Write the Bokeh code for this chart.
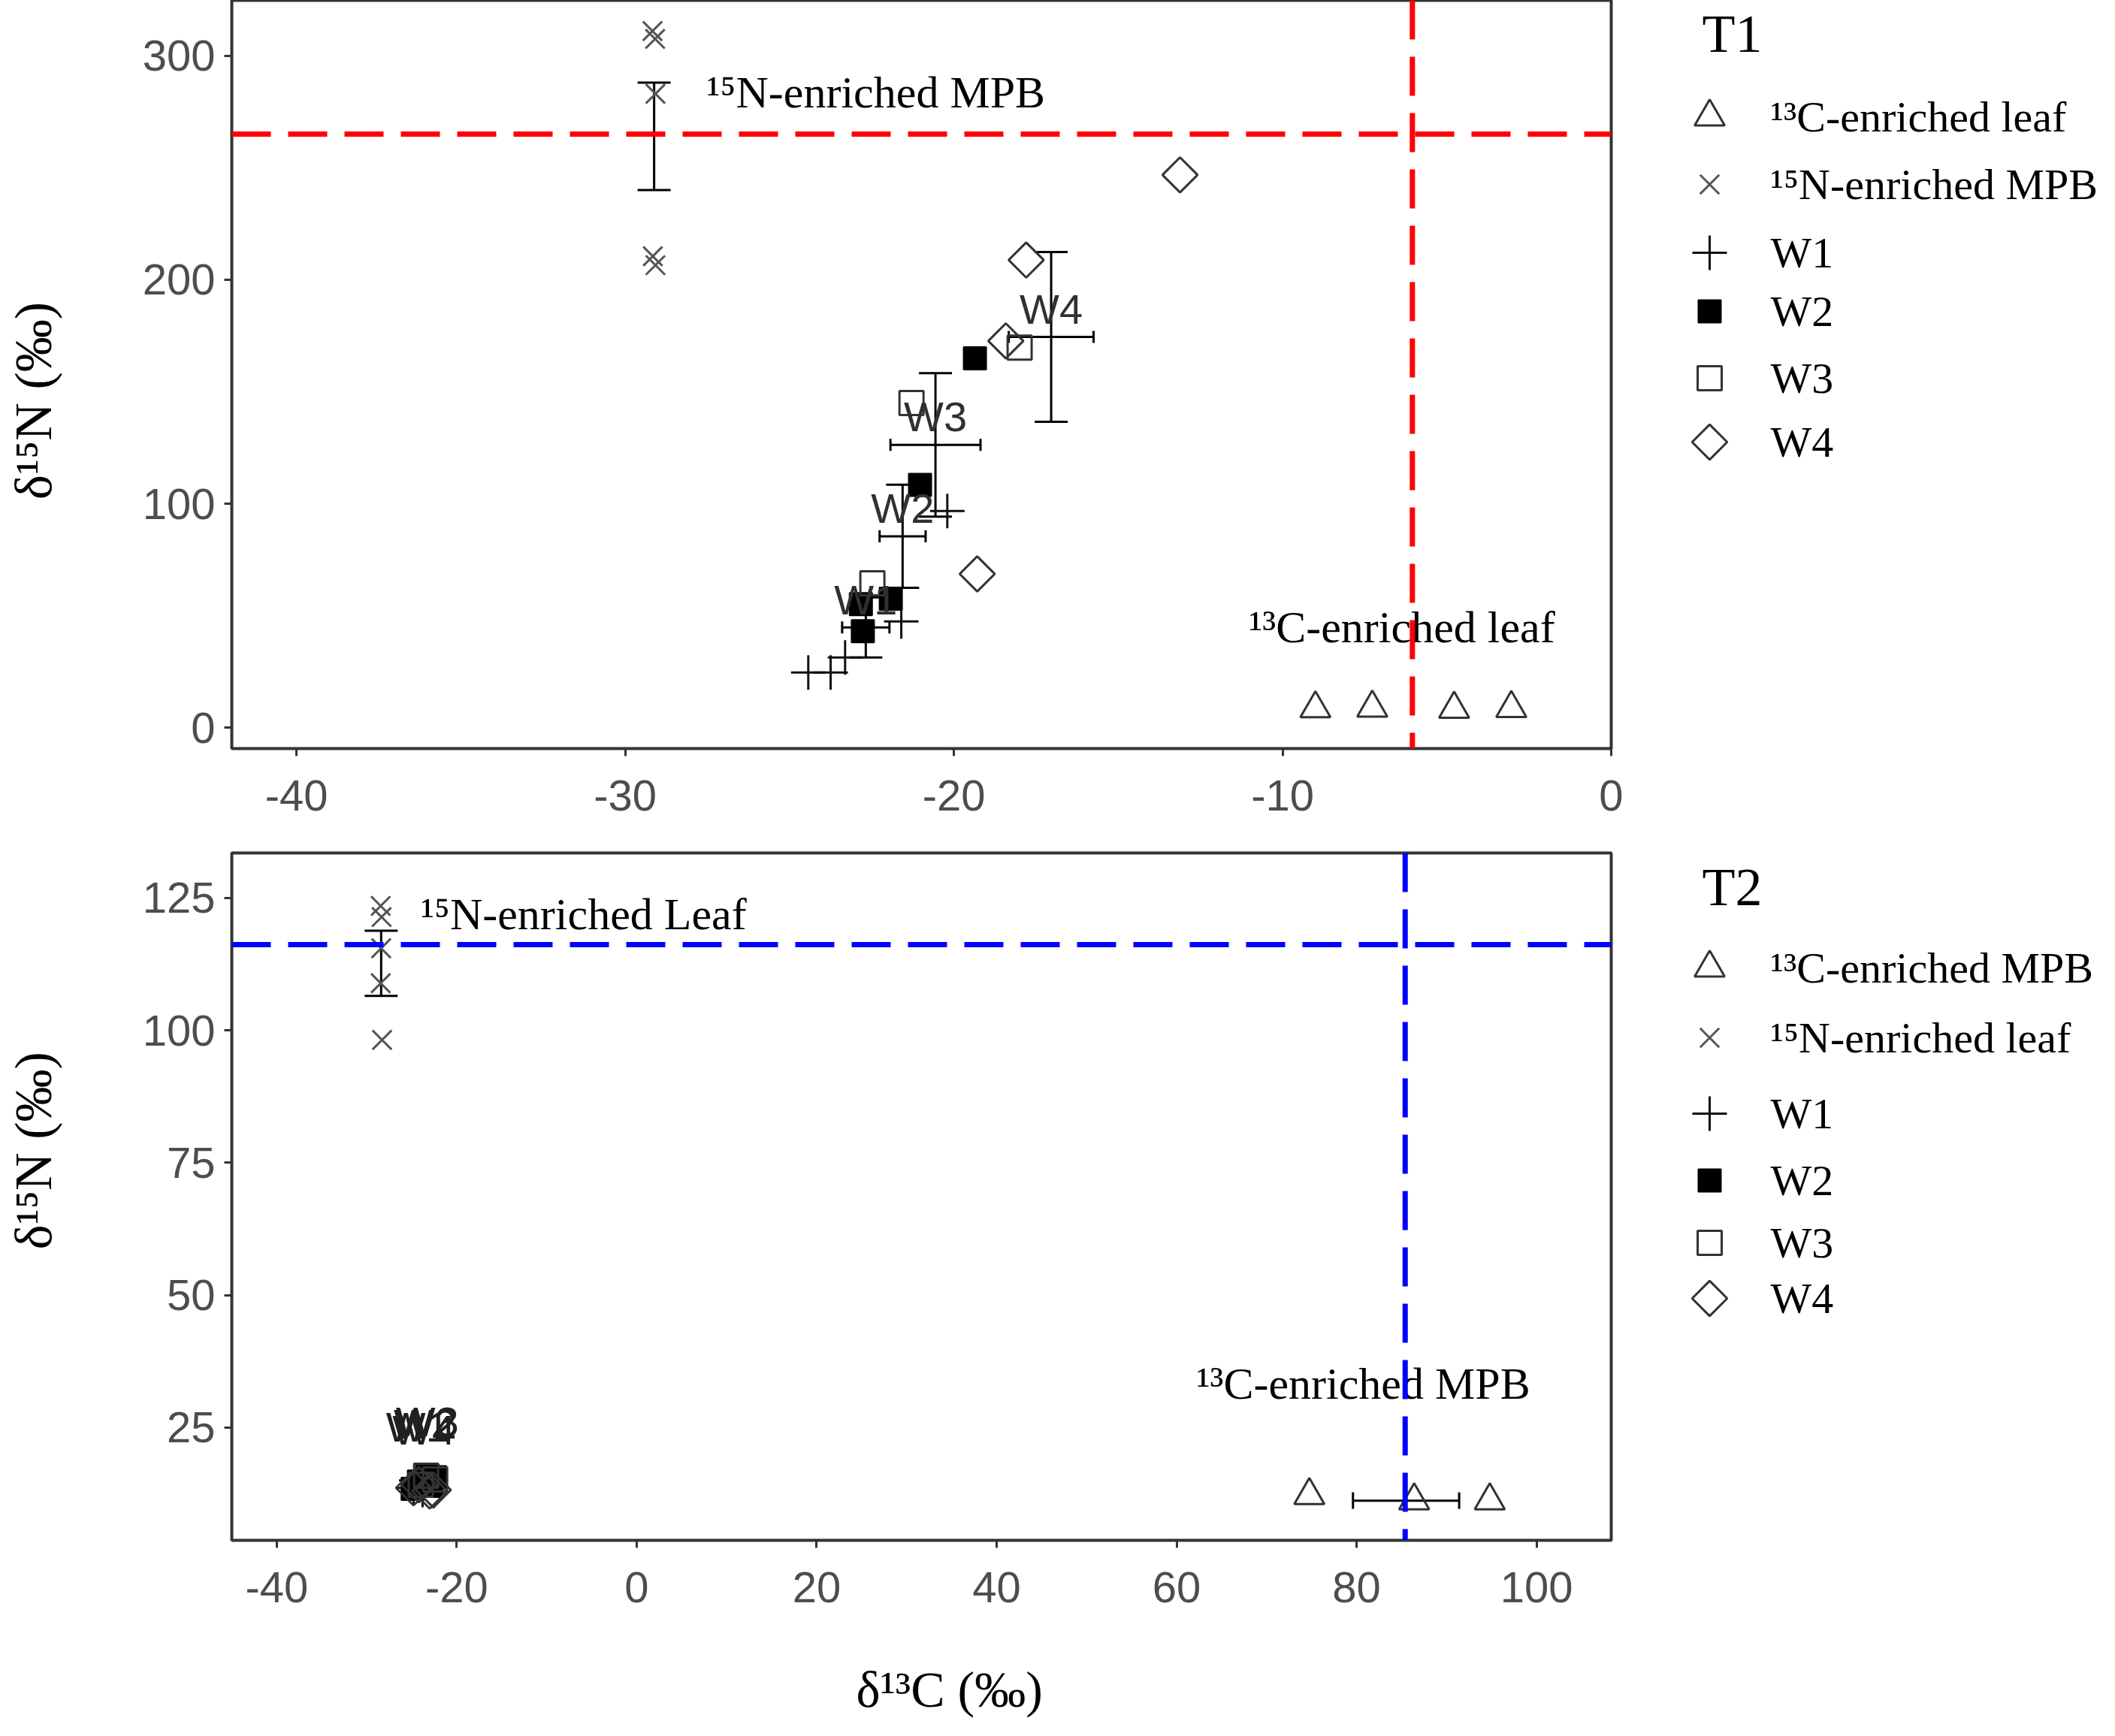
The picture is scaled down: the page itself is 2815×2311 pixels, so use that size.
import numpy as np
from bokeh.plotting import figure
from bokeh.models import Range1d, FixedTicker, Span, Whisker, TeeHead, ColumnDataSource
from bokeh.layouts import column, row
from bokeh.embed import file_html
from bokeh.resources import INLINE
from bokeh.core.properties import value

SERIF = "Liberation Serif"
SANS = "Liberation Sans"

# ======================= T1 data =======================
t1_leaf_x = [-9.0, -7.27, -4.78, -3.04]
t1_leaf_y = [8.6, 8.9, 8.4, 8.7]
t1_mpb_x = [-29.17, -29.09, -29.08, -29.16, -29.08]
t1_mpb_y = [311.0, 307.5, 283.0, 210.5, 206.5]
t1_w1_x = [-24.43, -23.75, -23.31, -21.60, -20.20]
t1_w1_y = [24.7, 24.7, 31.4, 47.5, 96.8]
t1_w2_x = [-22.83, -22.77, -21.92, -21.03, -19.36]
t1_w2_y = [55.2, 43.1, 57.6, 108.4, 164.9]
t1_w3_x = [-22.48, -21.29, -18.00]
t1_w3_y = [64.5, 145.0, 169.7]
t1_w4_x = [-17.80, -18.42, -19.29, -13.12]
t1_w4_y = [208.8, 172.7, 68.7, 246.8]

# group means and standard errors (error bars)
t1_groups = ["W1", "W2", "W3", "W4"]
t1_mean_x = [-22.68, -21.56, -20.56, -17.04]
t1_mean_y = [44.8, 85.5, 126.3, 174.5]
t1_se_x = [0.72, 0.70, 1.37, 1.29]
t1_se_y = [13.4, 23.0, 32.0, 37.9]
t1_mpb_mean_x = [-29.12]
t1_mpb_mean_y = [264.0]
t1_mpb_se_y = [24.0]
t1_label_nudge = 12.5
t1_ref_x = -6.05    # mean d13C of 13C-enriched leaf
t1_ref_y = 265.0    # mean d15N of 15N-enriched MPB

# ======================= T2 data =======================
t2_mpb_x = [74.75, 86.4, 94.8]
t2_mpb_y = [12.2, 11.2, 11.2]
t2_leaf_x = [-28.45, -28.35, -28.4, -28.45, -28.3]
t2_leaf_y = [123.5, 121.4, 115.5, 108.9, 98.2]
t2_w1_x = [-24.8, -24.3, -23.8, -24.5]
t2_w1_y = [13.6, 14.4, 13.2, 15.0]
t2_w2_x = [-24.9, -24.2, -23.2, -22.4, -22.8]
t2_w2_y = [13.4, 14.8, 15.8, 15.6, 14.0]
t2_w3_x = [-23.4, -22.4, -24.0]
t2_w3_y = [15.9, 15.2, 14.2]
t2_w4_x = [-23.0, -24.2, -24.8, -22.6]
t2_w4_y = [13.0, 14.2, 13.6, 13.2]

t2_groups = ["W1", "W2", "W3", "W4"]
t2_mean_x = [-24.35, -23.50, -23.27, -23.65]
t2_mean_y = [14.05, 14.7, 15.1, 13.5]
t2_se_x = [0.22, 0.45, 0.48, 0.50]
t2_se_y = [0.40, 0.48, 0.50, 0.27]
t2_leaf_mean_x = [-28.4]
t2_leaf_mean_y = [112.65]
t2_leaf_se_y = [6.15]
t2_mpb_mean_x = [85.5]
t2_mpb_mean_y = [11.2]
t2_mpb_se_x = [5.9]
t2_label_nudge = 11.0
t2_ref_x = 85.4     # mean d13C of 13C-enriched MPB
t2_ref_y = 116.2    # mean d15N of 15N-enriched leaf

# tick values
t1_xticks = [-40, -30, -20, -10, 0]
t1_yticks = [0, 100, 200, 300]
t2_xticks = [-40, -20, 0, 20, 40, 60, 80, 100]
t2_yticks = [25, 50, 75, 100, 125]

# legend labels
t1_legend = ["¹³C-enriched leaf", "¹⁵N-enriched MPB", "W1", "W2", "W3", "W4"]
t2_legend = ["¹³C-enriched MPB", "¹⁵N-enriched leaf", "W1", "W2", "W3", "W4"]

# ======================= styles / layout =======================
INK = "#333333"
STY = {
    "tri": dict(marker="triangle", size=40, fill_color=None, line_color=INK, line_width=3),
    "x": dict(marker="x", size=36, line_color="#555555", line_width=3),
    "plus": dict(marker="cross", size=46, line_color="#111111", line_width=3),
    "fsq": dict(marker="square", size=30, fill_color="black", line_color="black", line_width=2),
    "osq": dict(marker="square", size=32, fill_color=None, line_color=INK, line_width=3),
    "dia": dict(marker="square", size=33, angle=np.pi / 4, fill_color=None, line_color=INK, line_width=3),
}
ORDER = ["tri", "x", "plus", "fsq", "osq", "dia"]

MAIN_W = 2172          # page x 8 .. 2180 (frame 316 .. 2152)
LEG_W = 627            # page x 2180 .. 2807
TOP_MT, TOP_FH, TOP_MB = 0, 996, 115     # frame page y 8 .. 1004
BOT_MT, BOT_FH, BOT_MB = 24, 915, 108    # frame page y 1143 .. 2058
XLAB_H = 137                              # page y 2166 .. 2303
NB = "\u00a0"


def base_fig(mt, fh, mb, xr, yr, xticks, yticks, ylabel):
    p = figure(width=MAIN_W, height=mt + fh + mb, x_range=Range1d(*xr), y_range=Range1d(*yr),
               output_backend="svg", toolbar_location=None,
               min_border_left=308, min_border_right=28,
               min_border_top=mt, min_border_bottom=mb)
    p.grid.visible = False
    p.outline_line_color = INK
    p.outline_line_width = 4
    p.background_fill_color = "white"
    p.border_fill_color = "white"
    for ax in (p.xaxis[0], p.yaxis[0]):
        ax.axis_line_color = None
        ax.major_tick_line_color = INK
        ax.major_tick_line_width = 3
        ax.major_tick_out = 10
        ax.major_tick_in = 0
        ax.minor_tick_line_color = None
        ax.major_label_text_font = SANS
        ax.major_label_text_font_size = "58px"
        ax.major_label_text_color = "#4d4d4d"
    p.xaxis.major_label_standoff = 32
    p.yaxis.major_label_standoff = 12
    p.xaxis.ticker = FixedTicker(ticks=xticks)
    p.yaxis.ticker = FixedTicker(ticks=yticks)
    p.xaxis.major_label_overrides = {t: str(t) for t in xticks}
    p.yaxis.major_label_overrides = {t: str(t) for t in yticks}
    p.yaxis.axis_label = ylabel
    p.yaxis.axis_label_text_font = SERIF
    p.yaxis.axis_label_text_font_size = "70px"
    p.yaxis.axis_label_text_font_style = "normal"
    p.yaxis.axis_label_text_color = "black"
    p.yaxis.axis_label_standoff = 104
    return p


def add_vbars(p, xs, ys, ses, cap=44):
    src = ColumnDataSource(dict(x=xs, lo=[y - s for y, s in zip(ys, ses)], hi=[y + s for y, s in zip(ys, ses)]))
    p.add_layout(Whisker(source=src, base="x", lower="lo", upper="hi", dimension="height",
                         line_color="black", line_width=3,
                         upper_head=TeeHead(size=cap, line_color="black", line_width=3),
                         lower_head=TeeHead(size=cap, line_color="black", line_width=3)))


def add_hbars(p, xs, ys, ses, cap=16):
    src = ColumnDataSource(dict(y=ys, lo=[x - s for x, s in zip(xs, ses)], hi=[x + s for x, s in zip(xs, ses)]))
    p.add_layout(Whisker(source=src, base="y", lower="lo", upper="hi", dimension="width",
                         line_color="black", line_width=3,
                         upper_head=TeeHead(size=cap, line_color="black", line_width=3),
                         lower_head=TeeHead(size=cap, line_color="black", line_width=3)))


def add_refs(p, rx, ry, color):
    p.add_layout(Span(location=ry, dimension="width", line_color=color, line_width=7, line_dash="52 23"))
    p.add_layout(Span(location=rx, dimension="height", line_color=color, line_width=7, line_dash="52 23"))


def serif_text(p, x, y, txt, align, size="60px", baseline="middle"):
    p.text(x=[x], y=[y], text=[txt], text_font=value(SERIF), text_font_size=size,
           text_color="black", text_align=align, text_baseline=baseline)


def legend_fig(mt, fh, mb, page_top, title, title_y, item_y, labels):
    # y data units == page pixels (frame spans page_top .. page_top + fh)
    lf = figure(width=LEG_W, height=mt + fh + mb, x_range=Range1d(0, LEG_W),
                y_range=Range1d(page_top + fh, page_top),
                output_backend="svg", toolbar_location=None,
                min_border_left=0, min_border_right=0, min_border_top=mt, min_border_bottom=mb,
                x_axis_type=None, y_axis_type=None)
    lf.grid.visible = False
    lf.outline_line_color = None
    lf.background_fill_color = "white"
    lf.border_fill_color = "white"
    lf.text(x=[93], y=[title_y], text=[title], text_font=value(SERIF), text_font_size="72px",
            text_color="black", text_align="left", text_baseline="middle")
    for key, yy, lab in zip(ORDER, item_y, labels):
        lf.scatter(x=[103], y=[yy], **STY[key])
        lf.text(x=[184], y=[yy], text=[lab], text_font=value(SERIF), text_font_size="58px",
                text_color="black", text_align="left", text_baseline="middle")
    return lf


# ======================= top panel (T1) =======================
p1 = base_fig(TOP_MT, TOP_FH, TOP_MB, (-41.97, 0.0), (-9.25, 324.7), t1_xticks, t1_yticks,
              "δ¹⁵N (‰)" + NB * 4)
add_refs(p1, t1_ref_x, t1_ref_y, "#ff0000")
add_vbars(p1, t1_mean_x, t1_mean_y, t1_se_y)
add_hbars(p1, t1_mean_x, t1_mean_y, t1_se_x)
add_vbars(p1, t1_mpb_mean_x, t1_mpb_mean_y, t1_mpb_se_y)
for key, xs, ys in zip(ORDER,
                       [t1_leaf_x, t1_mpb_x, t1_w1_x, t1_w2_x, t1_w3_x, t1_w4_x],
                       [t1_leaf_y, t1_mpb_y, t1_w1_y, t1_w2_y, t1_w3_y, t1_w4_y]):
    p1.scatter(x=xs, y=ys, **STY[key])
p1.text(x=t1_mean_x, y=[m + t1_label_nudge for m in t1_mean_y], text=t1_groups,
        text_font=value(SANS), text_font_size="56px", text_color="#303030",
        text_align="center", text_baseline="middle")
serif_text(p1, -27.52, 283.5, "¹⁵N-enriched MPB", "left")
serif_text(p1, -1.71, 44.9, "¹³C-enriched leaf", "right")

# ======================= bottom panel (T2) =======================
p2 = base_fig(BOT_MT, BOT_FH, BOT_MB, (-45.0, 108.3), (3.7, 133.5), t2_xticks, t2_yticks,
              NB * 7 + "δ¹⁵N (‰)")
add_refs(p2, t2_ref_x, t2_ref_y, "#0000ff")
add_vbars(p2, t2_mean_x, t2_mean_y, t2_se_y)
add_hbars(p2, t2_mean_x, t2_mean_y, t2_se_x)
add_vbars(p2, t2_leaf_mean_x, t2_leaf_mean_y, t2_leaf_se_y)
add_hbars(p2, t2_mpb_mean_x, t2_mpb_mean_y, t2_mpb_se_x, cap=22)
for key, xs, ys in zip(ORDER,
                       [t2_mpb_x, t2_leaf_x, t2_w1_x, t2_w2_x, t2_w3_x, t2_w4_x],
                       [t2_mpb_y, t2_leaf_y, t2_w1_y, t2_w2_y, t2_w3_y, t2_w4_y]):
    p2.scatter(x=xs, y=ys, **STY[key])
p2.text(x=t2_mean_x, y=[m + t2_label_nudge for m in t2_mean_y], text=t2_groups,
        text_font=value(SANS), text_font_size="56px", text_color="#202020",
        text_align="center", text_baseline="middle")
serif_text(p2, -24.0, 121.9, "¹⁵N-enriched Leaf", "left")
serif_text(p2, 99.3, 33.3, "¹³C-enriched MPB", "right")

# ======================= x-axis title strip =======================
px = figure(width=MAIN_W, height=XLAB_H, x_range=Range1d(-45.0, 108.3), y_range=Range1d(XLAB_H, 0),
            output_backend="svg", toolbar_location=None,
            min_border_left=308, min_border_right=28, min_border_top=0, min_border_bottom=0,
            x_axis_type=None, y_axis_type=None)
px.grid.visible = False
px.outline_line_color = None
px.background_fill_color = "white"
px.border_fill_color = "white"
serif_text(px, 34.75, 90, "δ¹³C (‰)", "center", size="68px", baseline="middle")

# ======================= legends =======================
l1 = legend_fig(TOP_MT, TOP_FH, TOP_MB, 8, "T1", 52, [163, 253, 344, 422, 511, 596], t1_legend)
l2 = legend_fig(BOT_MT, BOT_FH, BOT_MB, 1143, "T2", 1188, [1296, 1389, 1490, 1579, 1662, 1736], t2_legend)

layout = column(row(p1, l1, spacing=0), row(p2, l2, spacing=0), px, spacing=0)
open("out.html", "w").write(file_html(layout, INLINE))
